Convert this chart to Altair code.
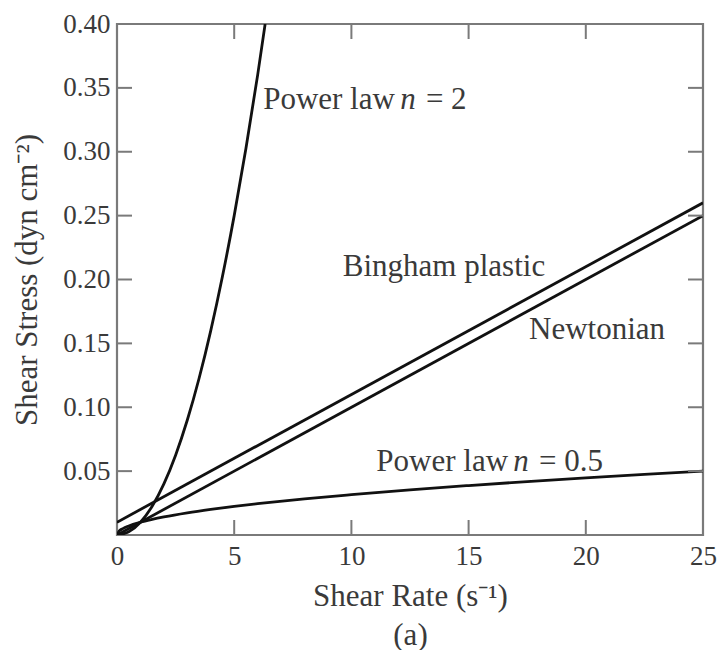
import altair as alt
import pandas as pd

# ---- data ----
newton_x = [0, 25]
newton_y = [0.0, 0.25]

bingham_x = [0, 25]
bingham_y = [0.01, 0.26]

pow05_x = [0, 0.1, 0.25, 0.5, 1, 1.5, 2, 3, 4, 5, 6, 8, 10, 12.5, 15, 17.5, 20, 22.5, 25]
pow05_y = [0.0, 0.0032, 0.005, 0.0071, 0.01, 0.0122, 0.0141, 0.0173, 0.02, 0.0224,
           0.0245, 0.0283, 0.0316, 0.0354, 0.0387, 0.0418, 0.0447, 0.0474, 0.05]

pow2_x = [0, 0.5, 1, 1.5, 2, 2.5, 3, 3.5, 4, 4.5, 5, 5.5, 6, 6.32]
pow2_y = [0.0, 0.0025, 0.01, 0.0225, 0.04, 0.0625, 0.09, 0.1225, 0.16, 0.2025,
          0.25, 0.3025, 0.36, 0.40]

x_tick_values = [0, 5, 10, 15, 20, 25]
y_tick_values = [0.05, 0.10, 0.15, 0.20, 0.25, 0.30, 0.35, 0.40]
x_inner_ticks = [5, 10, 15, 20]
y_inner_ticks = [0.05, 0.10, 0.15, 0.20, 0.25, 0.30, 0.35]

# annotations with italic "n"
pl_x = [12.41, 17.24]
pl_y = [0.3405, 0.0571]
pl_left = ["Power law", "Power law"]
pl_right = ["= 2", "= 0.5"]

plain_labels = ["Bingham plastic", "Newtonian"]
plain_x = [13.95, 20.48]
plain_y = [0.2098, 0.1605]

# ---- build tables ----
rows = []
for name, xs_, ys_ in [("Newtonian", newton_x, newton_y),
                       ("Bingham", bingham_x, bingham_y),
                       ("Power 0.5", pow05_x, pow05_y),
                       ("Power 2", pow2_x, pow2_y)]:
    for xv, yv in zip(xs_, ys_):
        rows.append({"series": name, "x": xv, "y": yv})
lines_df = pd.DataFrame(rows)

FONT = "Liberation Serif"
FS = 27      # tick labels
FT = 31      # titles and annotations
TXT = "#3a3a3a"
AX = "#7a7a7a"
W, H = 586, 511
TICK = 15

xs = alt.Scale(domain=[0, 25], nice=False, zero=False)
ys = alt.Scale(domain=[0, 0.4], nice=False, zero=False)

lines = alt.Chart(lines_df).mark_line(color="#111111", strokeWidth=2.8, clip=True,
                                      interpolate="monotone").encode(
    x=alt.X("x:Q", scale=xs,
            axis=alt.Axis(values=x_tick_values, ticks=False, domain=False, grid=False,
                          labelFlush=False, labelOverlap=False, labelBound=False,
                          format="d", labelPadding=8,
                          title=["Shear Rate (s\u207b\u00b9)", "(a)"],
                          titlePadding=12, titleLineHeight=39)),
    y=alt.Y("y:Q", scale=ys,
            axis=alt.Axis(values=y_tick_values, ticks=False, domain=False, grid=False,
                          labelFlush=False, labelOverlap=False, labelBound=False,
                          format=".2f", labelPadding=7,
                          title="Shear Stress (dyn cm\u207b\u00b2)", titlePadding=19)),
    detail="series:N",
)

xt = pd.DataFrame({"x": x_inner_ticks})
yt = pd.DataFrame({"y": y_inner_ticks})

bottom_ticks = alt.Chart(xt).mark_rule(color=AX, strokeWidth=2).encode(
    x=alt.X("x:Q", scale=xs), y=alt.value(H), y2=alt.value(H - TICK))
top_ticks = alt.Chart(xt).mark_rule(color=AX, strokeWidth=2).encode(
    x=alt.X("x:Q", scale=xs), y=alt.value(0), y2=alt.value(TICK))
left_ticks = alt.Chart(yt).mark_rule(color=AX, strokeWidth=2).encode(
    y=alt.Y("y:Q", scale=ys), x=alt.value(0), x2=alt.value(TICK))
right_ticks = alt.Chart(yt).mark_rule(color=AX, strokeWidth=2).encode(
    y=alt.Y("y:Q", scale=ys), x=alt.value(W), x2=alt.value(W - TICK))

pl_df = pd.DataFrame({"x": pl_x, "y": pl_y, "left": pl_left, "right": pl_right})
base_pl = alt.Chart(pl_df).encode(x=alt.X("x:Q", scale=xs), y=alt.Y("y:Q", scale=ys))
t_left = base_pl.mark_text(font=FONT, fontSize=FT, color=TXT, align="right",
                           baseline="middle", dx=-13).encode(text="left:N")
t_n = base_pl.mark_text(font=FONT, fontSize=FT, color=TXT, align="center",
                        baseline="middle", fontStyle="italic").encode(text=alt.value("n"))
t_right = base_pl.mark_text(font=FONT, fontSize=FT, color=TXT, align="left",
                            baseline="middle", dx=18).encode(text="right:N")

plain_df = pd.DataFrame({"x": plain_x, "y": plain_y, "label": plain_labels})
t_plain = alt.Chart(plain_df).mark_text(font=FONT, fontSize=FT, color=TXT, align="center",
                                        baseline="middle").encode(
    x=alt.X("x:Q", scale=xs), y=alt.Y("y:Q", scale=ys), text="label:N")

chart = alt.layer(lines, bottom_ticks, top_ticks, left_ticks, right_ticks,
                  t_left, t_n, t_right, t_plain).properties(
    width=W, height=H,
    autosize=alt.AutoSizeParams(type="none"),
    padding={"left": 117, "top": 24, "right": 15, "bottom": 115},
    background="white",
).configure_view(stroke=AX, strokeWidth=2.2).configure_axis(
    labelFont=FONT, labelFontSize=FS, labelColor=TXT,
    titleFont=FONT, titleFontSize=FT, titleColor=TXT, titleFontWeight="normal",
)

chart.save("out.html", embed_options={"renderer": "svg", "actions": False})
